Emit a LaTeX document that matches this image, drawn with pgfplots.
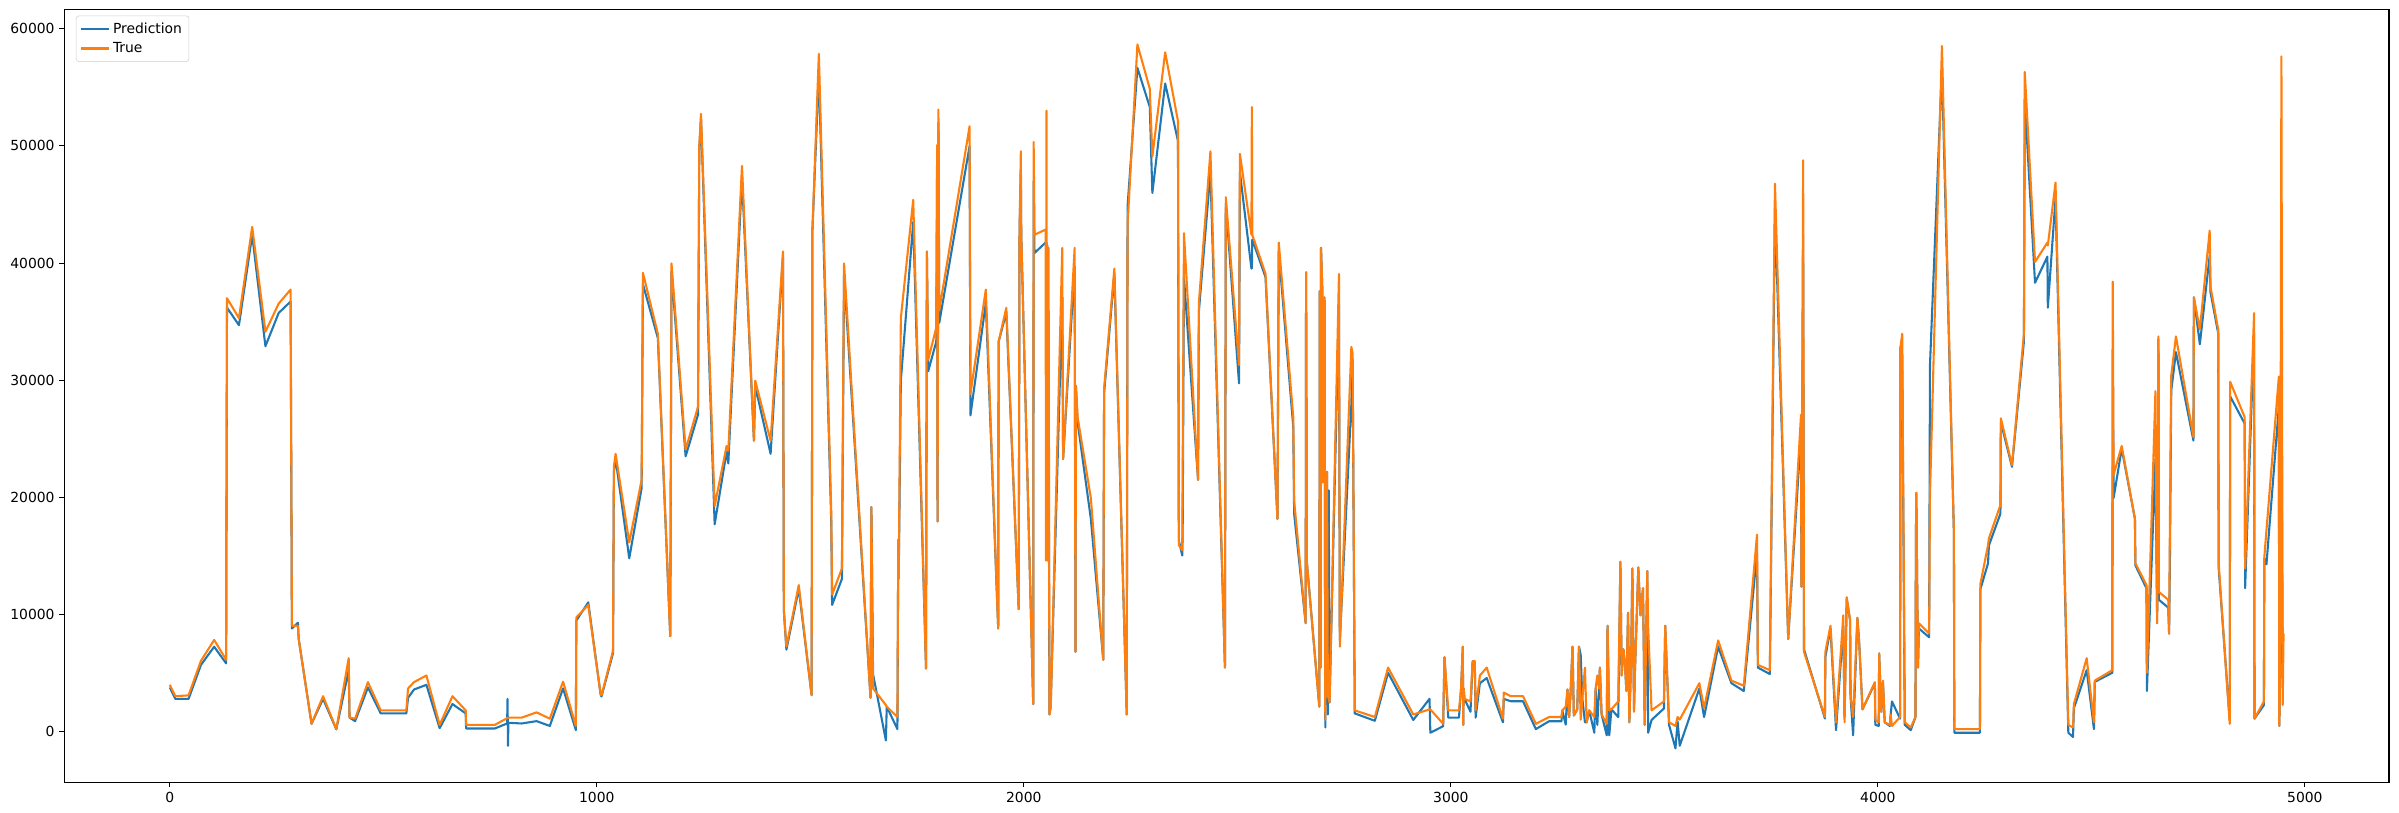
\documentclass[border=0pt]{standalone}
\usepackage{fontspec}
\setmainfont{DejaVu Sans}
\usepackage{pgfplots}
\usepackage{pgfplotstable}
\pgfplotsset{compat=1.18}
\usetikzlibrary{calc}
\definecolor{tabblue}{HTML}{1F77B4}
\definecolor{taborange}{HTML}{FF7F0E}

% x = sample index, p = prediction, t = true value
\pgfplotstableread{
x p t
0 3780 4000
13 2800 3030
44 2800 3100
73 5700 6050
104 7250 7830
132 5830 6140
134 36200 37000
162 34700 35300
193 42400 43090
224 32900 34140
255 35740 36540
283 36720 37740
286 8810 9040
300 9300 9040
302 7900 7900
332 670 670
359 2800 3030
390 200 220
419 5250 6280
421 1200 1200
434 900 1110
464 3780 4230
494 1560 1820
527 1560 1820
554 1560 1820
558 2890 3690
572 3600 4230
601 4000 4800
632 300 580
662 2360 3030
693 1560 1820
694 270 580
761 270 580
790 700 1150
791 2800 1180
792 -1200 1200
793 760 1200
824 700 1200
859 900 1650
890 490 1110
921 3690 4270
951 130 490
952 9480 9750
980 11040 10820
1009 3160 3200
1011 3000 3100
1038 6700 6900
1040 22170 22600
1044 23300 23720
1076 14800 16160
1105 20800 21500
1108 38200 39170
1143 33600 33960
1172 8150 8150
1175 39300 39970
1208 23500 24080
1237 27060 27730
1240 49760 49990
1244 52300 52740
1276 17700 19270
1304 23900 24390
1308 22900 24000
1340 47300 48290
1368 24840 24840
1371 29500 29960
1407 23720 24840
1436 40500 40990
1438 10370 10370
1444 7000 7260
1473 12200 12510
1503 3120 3120
1505 42860 42860
1520 56220 57860
1549 18000 18830
1551 10820 11700
1574 13040 13930
1579 39000 39970
1641 2890 2890
1643 19180 19180
1647 4900 3690
1677 -750 2270
1679 2140 2140
1704 220 1250
1706 16380 16380
1707 13040 13040
1712 29960 35300
1741 43500 45400
1771 5390 5390
1773 40990 40990
1776 30760 31740
1795 33290 34500
1797 49000 50080
1798 17940 17940
1800 52000 53100
1802 34900 35960
1873 49990 51680
1875 27000 28840
1911 36600 37740
1940 8810 8810
1941 33290 33290
1959 35800 36180
1988 10460 10460
1990 42860 42860
1993 47760 49540
1994 42420 42420
2022 2360 2360
2023 47000 50340
2025 40860 42420
2051 41750 42860
2052 41700 14600
2053 41600 53010
2055 41500 14600
2058 28620 41300
2060 1470 1470
2063 2360 2000
2090 37080 41300
2092 23280 23280
2119 39750 41300
2121 6810 6810
2122 29510 29510
2126 26400 26840
2157 18160 19940
2186 6140 6140
2188 28900 29290
2212 39080 39530
2241 1470 1470
2243 44900 43310
2266 56660 58660
2295 53320 54880
2301 45980 49100
2331 55330 57990
2361 50430 52120
2363 16300 15930
2371 15040 15490
2372 17270 22750
2375 38800 42550
2408 21500 21500
2410 35900 36630
2437 47760 49540
2471 5470 5470
2473 45090 45620
2504 29730 31290
2506 47760 49320
2533 39530 42420
2534 39530 53320
2535 42000 42420
2566 38800 39080
2594 18160 18160
2597 41000 41750
2631 26000 26840
2633 18610 19720
2660 9260 9260
2661 39210 39210
2663 14380 14380
2692 2140 2140
2693 37610 37610
2695 5470 5470
2696 41300 41300
2699 37740 37740
2700 21280 21280
2704 37070 37070
2706 360 1020
2710 22170 22170
2712 1470 3030
2714 20600 2800
2716 2500 2500
2738 36500 39080
2740 7800 7260
2767 27950 32850
2770 31800 32300
2775 1560 1820
2822 930 1250
2853 5030 5470
2912 1000 1470
2950 2800 1900
2951 1470 1910
2952 -90 1900
2982 470 670
2985 6360 6360
2994 1200 1820
3019 1200 1820
3024 3690 3690
3028 7260 7260
3029 580 580
3030 3690 3690
3032 2800 2800
3046 1700 2580
3051 6010 6010
3056 6010 6010
3058 1200 1820
3068 4140 4800
3084 4580 5470
3122 800 1110
3124 2800 3340
3140 2600 3030
3169 2600 3030
3199 220 670
3230 890 1250
3259 890 1250
3261 1820 1820
3269 600 2140
3273 3600 3600
3277 1250 1250
3280 3030 3030
3285 7260 7260
3288 1380 1380
3296 1910 1910
3300 7260 7260
3304 6590 1020
3308 2800 2800
3314 800 5470
3318 800 800
3324 1820 1820
3336 -90 1250
3339 3690 3690
3343 580 4800
3347 3690 3690
3349 5470 5470
3353 1470 1470
3365 -310 670
3367 9040 9040
3371 -310 1820
3376 1910 1910
3392 1250 2580
3397 14510 14510
3400 4800 4800
3404 7030 7030
3408 5700 5700
3411 3470 3470
3415 10150 10150
3418 800 800
3422 5920 5920
3425 13930 13930
3429 1910 1690
3431 5030 5030
3439 14020 14020
3444 9930 9930
3450 12240 12240
3454 580 580
3460 13710 13710
3462 -90 9000
3470 1000 1820
3499 1980 2580
3502 9040 9040
3511 580 800
3526 -1420 490
3531 900 1250
3536 -1200 1030
3582 3690 4140
3593 1250 2000
3626 7250 7790
3657 4140 4360
3686 3470 3920
3717 15270 16820
3719 5470 5700
3747 4920 5250
3759 44640 46780
3790 7920 7920
3820 25500 27060
3821 12370 12370
3825 42420 48780
3827 7030 6810
3876 1120 1250
3877 6360 6810
3889 8810 9040
3902 130 800
3919 9040 9930
3922 1250 800
3927 11350 11480
3935 9480 9480
3936 3030 3030
3942 -310 1250
3952 9710 9710
3956 7790 7700
3964 1910 1910
3993 4140 4230
3994 580 1020
4002 490 800
4003 6680 6680
4008 1690 1690
4012 4140 4360
4016 800 800
4028 490 580
4030 1470 1470
4033 2580 490
4052 1120 1250
4053 32850 32850
4057 32150 33960
4063 580 800
4077 130 360
4088 1250 1250
4089 16160 16160
4090 20390 20390
4094 5470 5470
4096 8810 9260
4120 8060 8370
4122 31290 20160
4150 56660 58530
4178 17050 17050
4179 -90 220
4239 -90 220
4240 12150 12600
4258 14380 15930
4260 15900 16500
4287 18610 19360
4288 26400 26750
4314 22610 22750
4342 33300 33960
4344 53990 56310
4368 38320 40100
4397 40550 41750
4398 36190 41500
4416 45530 46870
4446 -90 580
4457 -450 360
4459 2000 2360
4489 5250 6280
4506 220 800
4508 4250 4360
4549 5030 5250
4550 32630 38410
4552 19940 21940
4571 24170 24390
4602 18160 18160
4603 14200 14380
4629 12240 12510
4630 3470 5030
4650 23280 29070
4654 9260 9260
4657 33500 33740
4658 11260 11930
4680 10590 11260
4682 8370 8370
4684 15000 18610
4687 29100 30400
4698 32400 33740
4739 24840 25150
4740 37080 37080
4754 33070 34320
4777 40640 42770
4779 37500 37970
4797 34000 34320
4798 14000 14380
4824 1000 670
4825 28620 29870
4859 26300 26840
4860 12240 13930
4881 34000 35740
4882 1110 1110
4904 2270 2580
4905 14800 14910
4910 14290 17200
4939 27730 30310
4940 490 490
4942 4580 4580
4945 27730 57640
4948 4580 2270
4950 4580 8370
}\datatable

\begin{document}
\begin{tikzpicture}
\begin{axis}[
    scale only axis,
    width=1674pt, height=556.5pt,
    xmin=-247, xmax=5197,
    ymin=-4318, ymax=61650,
    xtick={0,1000,...,5000},
    ytick={0,10000,...,60000},
    scaled ticks=false,
    /pgf/number format/1000 sep={},
    /pgf/number format/assume math mode=true,
    tick label style={font=\fontsize{10}{12}\selectfont},
    tick align=outside,
    xtick pos=left, ytick pos=left,
    major tick length=3.5pt,
    tick style={line width=0.8pt, black},
    axis line style={line width=0.8pt},
    legend style={at={(0.005,0.992)}, anchor=north west,
        draw=black!18, rounded corners=2pt,
        font=\fontsize{10}{12}\selectfont,
        inner sep=3pt, row sep=1pt},
    legend cell align=left,
    legend image code/.code={\draw[#1] (0pt,0pt) -- (20pt,0pt);},
    every axis plot/.append style={line width=1.5pt, line join=round},
]
\addplot[tabblue, mark=none] table[x=x, y=p] {\datatable};
\addlegendentry{Prediction}
\addplot[taborange, mark=none] table[x=x, y=t] {\datatable};
\addlegendentry{True}
\end{axis}
\pgfresetboundingbox
\path[use as bounding box] ($(current axis.south west)+(-46.3pt,-22pt)$) rectangle ($(current axis.north east)+(7.2pt,6.8pt)$);
\end{tikzpicture}
\end{document}
